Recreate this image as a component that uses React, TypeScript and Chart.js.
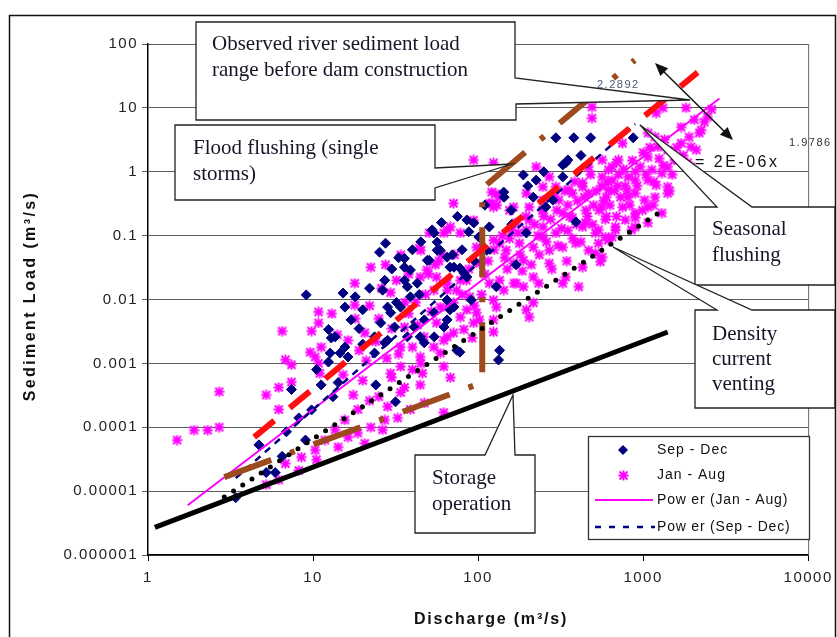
import React, { useEffect, useRef } from 'react';
import { Chart, registerables } from 'chart.js';

Chart.register(...registerables);

// ---------- axis ticks ----------
const xTicks = [1, 10, 100, 1000, 10000];
const xTickLabels = ['1', '10', '100', '1000', '10000'];
const yTicks = [0.000001, 0.00001, 0.0001, 0.001, 0.01, 0.1, 1, 10, 100];
const yTickLabels = ['0.000001', '0.00001', '0.0001', '0.001', '0.01', '0.1', '1', '10', '100'];

// ---------- observations: [discharge m3/s, sediment load m3/s] ----------
const sepDecObs: number[][] = [
  [9.1, 0.0118], [15.2, 0.0126], [25.3, 0.055], [27.5, 0.076], [27.2, 0.02], [26.4, 0.014],
  [15.6, 0.0076], [17, 0.0048], [20, 0.0069], [12.4, 0.0034], [13.6, 0.0026], [15.6, 0.0018],
  [14.6, 0.00145], [12.4, 0.00105], [16.3, 0.00126], [23.6, 0.0026], [25.7, 0.0043], [28.3, 0.0076],
  [29.5, 0.0062], [35.8, 0.02], [37.3, 0.0158], [38.9, 0.011], [33.9, 0.0076], [31.2, 0.0037],
  [28.3, 0.0023], [35.8, 0.032], [35.8, 0.044], [38.9, 0.029], [42.8, 0.018], [49.2, 0.041],
  [54.2, 0.11], [56.5, 0.079], [58.9, 0.059], [64.9, 0.046], [71.4, 0.032], [82, 0.026],
  [85.5, 0.176], [94.2, 0.158], [64.9, 0.0098], [71.4, 0.0076], [54.2, 0.0062], [47.2, 0.0048],
  [41, 0.0037], [37.3, 0.0026], [64.9, 0.0048], [74.4, 0.0016], [44.6, 0.0026], [23.6, 0.00145],
  [27.2, 0.0021], [296, 3.4], [380, 3.4], [481, 3.4], [871, 3.4], [188, 0.89],
  [143, 0.48], [144, 0.4], [340, 1.38], [326, 0.83], [87.9, 0.115], [52.7, 0.123],
  [56.5, 0.059], [50.6, 0.041], [67.6, 0.032], [77.6, 0.031], [85.5, 0.0225], [101, 0.095],
  [117, 0.137], [135, 0.0016], [133, 0.00113], [77.6, 0.0015], [67.6, 0.0069], [62.2, 0.0037],
  [54.2, 0.0026], [47.2, 0.0021], [129, 0.0158], [326, 1.28], [350, 1.53], [391, 0.164],
  [196, 0.11], [216, 0.4], [257, 0.28], [284, 0.36], [7.4, 0.00039], [8.2, 0.00014],
  [6.9, 0.000085], [4.7, 0.000053], [5.2, 0.0000195], [6.5, 0.000035], [3.4, 0.0000079], [12.7, 0.00145],
  [12.9, 0.0025], [11.2, 0.00046], [9.8, 0.000187], [9.0, 0.000063], [5.9, 0.0000195], [14.2, 0.0005],
  [24, 0.00046], [31.6, 0.00025], [13.2, 0.0003], [159, 0.25], [225, 0.74], [113, 0.059],
  [170, 0.035], [91, 0.0098],
  [18, 0.011], [22, 0.015], [30, 0.03], [33, 0.045], [40, 0.06], [45, 0.08], [60, 0.16], [75, 0.2],
  [20, 0.002], [32, 0.009], [44, 0.012], [70, 0.05], [80, 0.06], [95, 0.04], [110, 0.3], [250, 1.0],
  [200, 0.6], [420, 1.8], [160, 0.15], [10.5, 0.0008], [19, 0.0035],
];

const janAugObs: number[][] = [
  [1.5, 0.000063], [1.9, 0.00009], [2.3, 0.00009], [2.7, 0.0001], [2.7, 0.00036],
  [5.2, 0.00032], [6.2, 0.00042], [6.2, 0.00019], [7.4, 0.00051], [6.8, 0.00114], [7.4, 0.00095],
  [6.5, 0.0032], [9.6, 0.0015], [10.8, 0.001], [11, 0.0007], [9.8, 0.0032],
  [10.8, 0.0064], [10.8, 0.0043], [17.9, 0.018], [22.4, 0.032], [27.5, 0.035], [17.9, 0.0082],
  [29.5, 0.0128], [34, 0.05], [44, 0.064], [50.6, 0.11], [65, 0.123], [78, 0.11], [94, 0.174],
  [121, 0.32], [121, 0.48], [44.6, 0.0225], [54, 0.014], [65, 0.014], [71, 0.0089], [85.5, 0.0069],
  [98, 0.0062], [102, 0.0048], [82, 0.0034], [65, 0.0026], [54, 0.0018], [44.6, 0.00126],
  [34, 0.00089], [29.5, 0.0007], [10.3, 0.00126], [34, 0.0018], [35.8, 0.0037], [20.6, 0.003],
  [16.3, 0.0023], [11.2, 0.0018], [58.9, 0.0076], [78, 0.02], [102, 0.037], [98, 0.066], [124, 0.085],
  [94, 1.53], [128, 0.45], [130, 0.3], [225, 1.19], [270, 0.83], [247, 0.58], [309, 0.36],
  [355, 0.52], [430, 0.67], [468, 0.46], [565, 0.83], [617, 0.52], [326, 0.226], [373, 0.19],
  [447, 0.158], [537, 0.123], [648, 0.095], [296, 0.11], [247, 0.095], [216, 0.066], [188, 0.041],
  [164, 0.037], [148, 0.059], [135, 0.076], [178, 0.076], [196, 0.123], [170, 0.158], [155, 0.25],
  [204, 0.28], [270, 0.059], [326, 0.066], [391, 0.076], [468, 0.059], [565, 0.046], [270, 0.037],
  [216, 0.0225], [170, 0.018], [143, 0.014], [117, 0.018], [124, 0.0098], [188, 0.0158], [233, 0.018],
  [326, 0.018], [216, 0.0089], [196, 0.0069], [129, 0.0076], [95, 0.008], [89, 0.011], [85, 0.02],
  [74, 0.014], [65, 0.018], [56, 0.0225], [49, 0.029], [45, 0.059], [62, 0.11], [68, 0.137],
  [71, 0.32], [124, 1.38], [117, 0.32], [56, 0.0043], [47, 0.0026], [62, 0.0023], [71, 0.003],
  [59, 0.00145], [78, 0.0053], [94, 0.0043], [124, 0.0031], [124, 0.0048], [204, 0.0053], [68, 0.0006],
  [62, 0.00089], [45, 0.001], [340, 0.0225], [430, 0.032], [514, 0.053], [407, 0.0158],
  [490, 10.3], [490, 6.9], [1318, 10], [1820, 10], [2040, 6.5], [2450, 7.2], [1070, 4.05], [2190, 4.05],
  [1230, 2.45], [1700, 2.8], [710, 1.53], [1070, 1.7], [1410, 1.19], [1860, 1.38], [2140, 0.83],
  [1410, 0.58], [1070, 0.74], [810, 0.83], [565, 1.53], [468, 1.19], [648, 0.74], [430, 0.58],
  [373, 0.46], [296, 0.58], [247, 0.36], [196, 0.46], [135, 0.4], [124, 0.28], [164, 0.28],
  [565, 0.28], [750, 0.28], [1070, 0.28], [1300, 0.226], [1180, 0.4], [895, 0.137], [680, 0.137],
  [430, 0.137], [247, 0.137], [204, 0.176],
  [1200, 8.3], [1700, 5], [2250, 4.5], [1950, 2.45], [1550, 1.53], [1180, 3.5], [1000, 2], [750, 2.8],
  [690, 1.4], [617, 1.07], [1130, 1.07], [1300, 0.95], [1450, 0.5], [1200, 0.62], [895, 0.74],
  [1020, 0.36], [895, 0.226], [1070, 0.158], [780, 0.176], [680, 0.123], [617, 0.085], [514, 0.11],
  [1320, 1.25], [1620, 1.53], [1950, 1.19], [1410, 2.2], [895, 0.46],
  [550, 0.039], [810, 0.4], [1150, 0.3], [895, 0.19], [1410, 0.46], [537, 0.076], [590, 0.095], [850, 0.123],
  [11.8, 0.000063], [14.2, 0.000049], [16.3, 0.00007], [18.7, 0.000081], [22.4, 0.0001], [27.2, 0.00013],
  [32.6, 0.00014], [38.9, 0.00019], [34, 0.00035], [28.3, 0.00021], [47.2, 0.00024], [62, 0.00017],
  [35.8, 0.00042], [44.6, 0.00046], [15.6, 0.00013], [13.6, 0.000091], [10.3, 0.000044], [8.5, 0.000034],
  [6.8, 0.000027], [6.2, 0.000015], [8.2, 0.000021], [20.6, 0.000056], [26.4, 0.000091], [10.5, 0.000031],
  [15.2, 0.00066], [17.5, 0.00032], [20, 0.00054], [22, 0.00026], [18.7, 0.00019], [5.2, 0.0000126],
  [25, 0.005], [30, 0.0035], [38, 0.006], [42, 0.009], [48, 0.012], [52, 0.0065], [40, 0.0018],
  [28, 0.0012], [24, 0.0022], [55, 0.035], [60, 0.05], [38, 0.025],
  [110, 0.025], [150, 0.03], [180, 0.05], [140, 0.1], [160, 0.12], [230, 0.1], [250, 0.2], [300, 0.25],
  [350, 0.3], [400, 0.35], [450, 0.25], [500, 0.3], [600, 0.4], [700, 0.6], [800, 0.5], [900, 1],
  [600, 0.2], [350, 0.12], [280, 0.03], [25, 0.0003], [30, 0.0006], [40, 0.0008],
  [105, 0.012], [115, 0.04], [125, 0.06], [135, 0.02], [145, 0.045], [155, 0.09], [165, 0.018],
  [175, 0.11], [185, 0.028], [195, 0.2], [210, 0.035], [220, 0.15], [235, 0.05], [245, 0.25],
  [260, 0.08], [275, 0.18], [290, 0.45], [305, 0.07], [320, 0.13], [335, 0.5], [345, 0.04],
  [360, 0.2], [375, 0.09], [385, 0.7], [395, 0.15], [420, 0.08], [440, 0.4], [460, 0.2], [480, 0.9],
  [495, 0.15], [520, 0.5], [540, 0.25], [560, 0.6], [575, 0.35], [590, 0.18], [610, 0.7], [630, 0.3],
  [650, 1.2], [670, 0.5], [690, 0.2], [710, 0.9], [730, 0.4], [760, 1.1], [780, 0.6], [830, 0.3],
  [860, 1.5], [920, 0.6], [960, 1.2], [990, 0.25], [1040, 0.9], [1100, 2.4], [1160, 0.7], [1250, 1.6],
  [1350, 3.2], [1500, 0.9], [1600, 2.4], [1750, 1.8], [1900, 3.5], [2100, 2.2], [2350, 6], [2600, 9.5],
  [22, 0.008], [26, 0.015], [32, 0.02], [36, 0.009], [43, 0.004], [50, 0.025], [58, 0.04], [66, 0.008],
  [72, 0.05], [80, 0.012], [88, 0.03], [92, 0.0025], [18, 0.005], [14, 0.0028], [13, 0.006],
  [21, 0.0011], [33, 0.0014], [46, 0.0007], [19, 0.0016],
];

// ---------- fitted / envelope lines ----------
const powerJanAugQ = [1.74, 2900];
const powerJanAugLoad = [0.000006, 14];
const powerSepDecQ = [3.4, 895];
const powerSepDecLoad = [0.000016, 5.6];
const seasonalQ = [4.4, 2140];
const seasonalLoad = [0.00007, 36];
const densityQ = [2.9, 1320];
const densityLoad = [0.0000081, 0.25];
const storageQ = [1.1, 1410];
const storageLoad = [0.0000027, 0.0031];
const floodRangeQ = [2.9, 106, 106, 890];
const floodRangeLoad = [0.0000166, 0.0005, 0.55, 56];

const pairs = (qs: number[], ls: number[]) => qs.map((q, i) => ({ x: q, y: ls[i] }));
const obs = (arr: number[][]) => arr.map((p) => ({ x: p[0], y: p[1] }));

const SANS = '"Liberation Sans", Arial, sans-serif';
const SERIF = '"Liberation Serif", "Times New Roman", serif';

function makeStar(): HTMLCanvasElement {
  const c = document.createElement('canvas');
  c.width = 11;
  c.height = 11;
  const g = c.getContext('2d')!;
  g.strokeStyle = '#ff00ff';
  g.lineWidth = 1.9;
  g.beginPath();
  g.moveTo(1.5, 1.5); g.lineTo(9.5, 9.5);
  g.moveTo(9.5, 1.5); g.lineTo(1.5, 9.5);
  g.moveTo(5.5, 0.5); g.lineTo(5.5, 10.5);
  g.moveTo(0.5, 5.5); g.lineTo(10.5, 5.5);
  g.stroke();
  return c;
}

function poly(ctx: CanvasRenderingContext2D, pts: number[][]) {
  ctx.beginPath();
  ctx.moveTo(pts[0][0], pts[0][1]);
  for (let i = 1; i < pts.length; i++) ctx.lineTo(pts[i][0], pts[i][1]);
  ctx.closePath();
  ctx.fillStyle = '#ffffff';
  ctx.fill();
  ctx.strokeStyle = '#222';
  ctx.lineWidth = 1.3;
  ctx.stroke();
}

function text(ctx: CanvasRenderingContext2D, s: string, x: number, y: number, font: string, color = '#161628', spacing = '0px', align: CanvasTextAlign = 'left', baseline: CanvasTextBaseline = 'alphabetic') {
  ctx.font = font;
  (ctx as any).letterSpacing = spacing;
  ctx.fillStyle = color;
  ctx.textAlign = align;
  ctx.textBaseline = baseline;
  ctx.fillText(s, x, y);
}

function arrowHead(ctx: CanvasRenderingContext2D, x: number, y: number, ang: number) {
  const L = 13, W = 5.5;
  ctx.beginPath();
  ctx.moveTo(x, y);
  ctx.lineTo(x - L * Math.cos(ang) + W * Math.sin(ang), y - L * Math.sin(ang) - W * Math.cos(ang));
  ctx.lineTo(x - L * Math.cos(ang) - W * Math.sin(ang), y - L * Math.sin(ang) + W * Math.cos(ang));
  ctx.closePath();
  ctx.fill();
}

const starImg = typeof document !== 'undefined' ? makeStar() : null;

const decorations = {
  id: 'decorations',
  beforeDraw(chart: any) {
    const ctx = chart.ctx as CanvasRenderingContext2D;
    ctx.save();
    ctx.fillStyle = '#ffffff';
    ctx.fillRect(0, 0, chart.width, chart.height);
    ctx.restore();
    (ctx as any).letterSpacing = '1.5px';
  },
  afterDatasetsDraw(chart: any) {
    const ctx = chart.ctx as CanvasRenderingContext2D;
    const a = chart.chartArea;
    ctx.save();
    // right border of plot
    ctx.strokeStyle = '#666';
    ctx.lineWidth = 1;
    ctx.beginPath();
    ctx.moveTo(a.right + 0.5, a.top);
    ctx.lineTo(a.right + 0.5, a.bottom);
    ctx.stroke();

    // equation labels
    text(ctx, '= 2E-06x', 695, 167, `16px ${SANS}`, '#111', '2.5px');
    text(ctx, '1.9786', 789, 146, `11px ${SANS}`, '#333', '1.5px');

    // double headed arrow
    ctx.strokeStyle = '#111';
    ctx.fillStyle = '#111';
    ctx.lineWidth = 1.5;
    ctx.beginPath();
    ctx.moveTo(660, 68);
    ctx.lineTo(728, 135);
    ctx.stroke();
    const ang = Math.atan2(140 - 63, 733 - 655);
    arrowHead(ctx, 733, 140, ang);
    arrowHead(ctx, 655, 63, ang + Math.PI);

    // callout boxes
    poly(ctx, [[196, 22], [515, 22], [515, 78], [690, 100], [516, 104], [516, 120], [196, 120]]);
    text(ctx, '2.2892', 597, 88, `11px ${SANS}`, '#4a5a7a', '1.5px');
    text(ctx, 'Observed river sediment load', 212, 50, `21px ${SERIF}`);
    text(ctx, 'range before dam construction', 212, 76, `21px ${SERIF}`);

    poly(ctx, [[175, 125], [435, 125], [435, 168], [512, 164], [435, 188], [435, 200], [175, 200]]);
    text(ctx, 'Flood flushing (single', 193, 154, `21px ${SERIF}`);
    text(ctx, 'storms)', 193, 180, `21px ${SERIF}`);

    poly(ctx, [[695, 207], [717, 207], [640, 125], [752, 207], [835, 207], [835, 285], [695, 285]]);
    text(ctx, 'Seasonal', 712, 235, `21px ${SERIF}`);
    text(ctx, 'flushing', 712, 261, `21px ${SERIF}`);

    poly(ctx, [[695, 310], [717, 310], [613, 247], [752, 310], [835, 310], [835, 408], [695, 408]]);
    text(ctx, 'Density', 712, 340, `21px ${SERIF}`);
    text(ctx, 'current', 712, 365, `21px ${SERIF}`);
    text(ctx, 'venting', 712, 390, `21px ${SERIF}`);

    poly(ctx, [[415, 455], [485, 455], [513, 395], [515, 455], [535, 455], [535, 533], [415, 533]]);
    text(ctx, 'Storage', 432, 484, `21px ${SERIF}`);
    text(ctx, 'operation', 432, 510, `21px ${SERIF}`);

    // legend
    ctx.fillStyle = '#fff';
    ctx.fillRect(588, 436, 221, 103);
    ctx.strokeStyle = '#333';
    ctx.lineWidth = 1.3;
    ctx.strokeRect(588.5, 436.5, 221, 103);
    ctx.fillStyle = '#000080';
    ctx.beginPath();
    ctx.moveTo(623, 445); ctx.lineTo(628, 450); ctx.lineTo(623, 455); ctx.lineTo(618, 450);
    ctx.closePath();
    ctx.fill();
    if (starImg) ctx.drawImage(starImg, 618, 470);
    ctx.strokeStyle = '#ff00ff';
    ctx.lineWidth = 2;
    ctx.beginPath(); ctx.moveTo(595, 500); ctx.lineTo(653, 500); ctx.stroke();
    ctx.strokeStyle = '#000080';
    ctx.lineWidth = 2.5;
    ctx.setLineDash([6, 8]);
    ctx.beginPath(); ctx.moveTo(595, 527); ctx.lineTo(655, 527); ctx.stroke();
    ctx.setLineDash([]);
    const lf = `14px ${SANS}`;
    text(ctx, 'Sep - Dec', 657, 450, lf, '#111', '1px', 'left', 'middle');
    text(ctx, 'Jan - Aug', 657, 475, lf, '#111', '1px', 'left', 'middle');
    text(ctx, 'Pow er (Jan - Aug)', 657, 500, lf, '#111', '0.8px', 'left', 'middle');
    text(ctx, 'Pow er (Sep - Dec)', 657, 527, lf, '#111', '0.8px', 'left', 'middle');

    // axis titles
    text(ctx, 'Discharge (m³/s)', 491, 620, `bold 16px ${SANS}`, '#111', '1.8px', 'center', 'middle');
    ctx.save();
    ctx.translate(31, 296);
    ctx.rotate(-Math.PI / 2);
    text(ctx, 'Sediment Load (m³/s)', 0, 0, `bold 16px ${SANS}`, '#111', '2.4px', 'center', 'middle');
    ctx.restore();

    // outer frame
    ctx.strokeStyle = '#111';
    ctx.lineWidth = 1.5;
    ctx.strokeRect(9.5, 15.5, 826, 640);
    ctx.restore();
  },
};

export default function App() {
  const ref = useRef<HTMLCanvasElement | null>(null);
  useEffect(() => {
    if (!ref.current) return;
    const lineDs = (qs: number[], ls: number[], color: string, width: number, dash: number[], cap: CanvasLineCap = 'butt') => ({
      type: 'scatter' as const,
      data: pairs(qs, ls),
      showLine: true,
      borderColor: color,
      backgroundColor: color,
      borderWidth: width,
      borderDash: dash,
      borderCapStyle: cap,
      pointRadius: 0,
      fill: false,
      tension: 0,
    });
    const chart = new Chart(ref.current, {
      type: 'scatter',
      data: {
        datasets: [
          { label: 'Seasonal flushing', ...lineDs(seasonalQ, seasonalLoad, '#ff1010', 6, [26, 20]) },
          { label: 'Density current venting', ...lineDs(densityQ, densityLoad, '#000000', 5, [0, 11], 'round') },
          { label: 'Flood flushing', ...lineDs(floodRangeQ, floodRangeLoad, '#9c4a1e', 6, [50, 20, 5, 20]) },
          { label: 'Storage operation', ...lineDs(storageQ, storageLoad, '#000000', 5, []) },
          { label: 'Pow er (Sep - Dec)', ...lineDs(powerSepDecQ, powerSepDecLoad, '#000080', 2.5, [7, 6]) },
          { label: 'Pow er (Jan - Aug)', ...lineDs(powerJanAugQ, powerJanAugLoad, '#ff00ff', 2, []) },
          {
            label: 'Sep - Dec',
            data: obs(sepDecObs),
            pointStyle: 'rectRot',
            pointRadius: 5,
            backgroundColor: '#000080',
            borderColor: '#000080',
            borderWidth: 1,
          },
          {
            label: 'Jan - Aug',
            data: obs(janAugObs),
            pointStyle: starImg as any,
            pointRadius: 5,
            backgroundColor: '#ff00ff',
            borderColor: '#ff00ff',
          },
        ] as any,
      },
      options: {
        responsive: false,
        animation: false,
        devicePixelRatio: 1,
        events: [],
        layout: { padding: { left: 0, top: 44, right: 22, bottom: 0 } },
        plugins: { legend: { display: false }, tooltip: { enabled: false }, title: { display: false } },
        scales: {
          x: {
            type: 'logarithmic',
            min: 1,
            max: 10000,
            afterBuildTicks: (s: any) => { s.ticks = xTicks.map((v) => ({ value: v })); },
            afterFit: (s: any) => { s.height = 82; },
            ticks: {
              autoSkip: false,
              maxRotation: 0,
              padding: 8,
              color: '#222',
              font: { family: SANS, size: 15 },
              callback: (_v: any, i: number) => xTickLabels[i],
            },
            grid: { drawOnChartArea: false, color: '#000', tickLength: 6 },
            border: { color: '#000', width: 1.5 },
          },
          y: {
            type: 'logarithmic',
            min: 0.000001,
            max: 100,
            afterBuildTicks: (s: any) => { s.ticks = yTicks.map((v) => ({ value: v })); },
            afterFit: (s: any) => { s.width = 148; },
            ticks: {
              autoSkip: false,
              padding: 4,
              color: '#222',
              font: { family: SANS, size: 15 },
              callback: (_v: any, i: number) => yTickLabels[i],
            },
            grid: { color: '#5a5a5a', tickLength: 6, lineWidth: 1 },
            border: { color: '#000', width: 1.5 },
          },
        },
      } as any,
      plugins: [decorations],
    });
    return () => chart.destroy();
  }, []);
  return (
    <div style={{ position: 'fixed', left: 0, top: 0, width: 837, height: 637, background: '#fff' }}>
      <canvas ref={ref} width={837} height={637} style={{ display: 'block', width: 837, height: 637 }} />
    </div>
  );
}
